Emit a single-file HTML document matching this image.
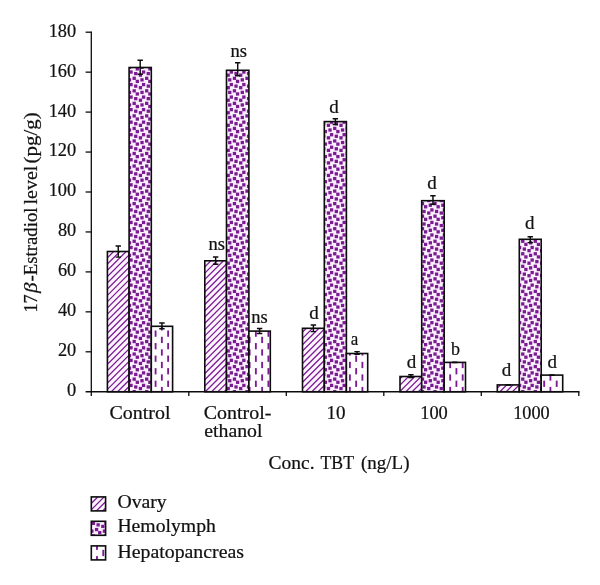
<!DOCTYPE html>
<html><head><meta charset="utf-8"><title>chart</title>
<style>
html,body{margin:0;padding:0;background:#fff;}
svg{display:block;}
text{font-family:"Liberation Serif","DejaVu Serif",serif;fill:#111;stroke:#111;stroke-width:0.22px;}
</style></head><body>
<svg width="600" height="585" viewBox="0 0 600 585">
<defs>
<g id="cf"><rect x="3.054" y="-0.080" width="3.294" height="3.294"/><rect x="9.321" y="3.054" width="3.294" height="3.294"/><rect x="4.621" y="4.621" width="3.294" height="3.294"/><rect x="-0.080" y="6.188" width="3.294" height="3.294"/><rect x="6.188" y="9.321" width="3.294" height="3.294"/><rect x="10.888" y="10.888" width="3.294" height="3.294"/></g>
<g id="ds"><rect x="-0.125" y="0" width="1.818" height="6.268"/><rect x="6.142" y="6.268" width="1.818" height="6.268"/></g>
<clipPath id="c0"><rect x="107.40" y="251.50" width="21.70" height="140.25"/></clipPath>
<clipPath id="c1"><rect x="129.10" y="67.50" width="22.20" height="324.25"/></clipPath>
<clipPath id="c2"><rect x="151.30" y="326.30" width="21.30" height="65.45"/></clipPath>
<clipPath id="c3"><rect x="204.80" y="260.80" width="21.70" height="130.95"/></clipPath>
<clipPath id="c4"><rect x="226.50" y="70.30" width="22.40" height="321.45"/></clipPath>
<clipPath id="c5"><rect x="248.90" y="331.10" width="21.40" height="60.65"/></clipPath>
<clipPath id="c6"><rect x="302.50" y="328.30" width="21.80" height="63.45"/></clipPath>
<clipPath id="c7"><rect x="324.30" y="121.60" width="22.10" height="270.15"/></clipPath>
<clipPath id="c8"><rect x="346.40" y="353.50" width="21.30" height="38.25"/></clipPath>
<clipPath id="c9"><rect x="400.00" y="376.50" width="21.70" height="15.25"/></clipPath>
<clipPath id="c10"><rect x="421.70" y="200.70" width="22.50" height="191.05"/></clipPath>
<clipPath id="c11"><rect x="444.20" y="362.40" width="21.30" height="29.35"/></clipPath>
<clipPath id="c12"><rect x="497.30" y="384.90" width="22.00" height="6.85"/></clipPath>
<clipPath id="c13"><rect x="519.30" y="239.30" width="21.90" height="152.45"/></clipPath>
<clipPath id="c14"><rect x="541.20" y="375.10" width="21.50" height="16.65"/></clipPath>
<clipPath id="c15"><rect x="91.30" y="496.90" width="14.30" height="14.00"/></clipPath>
<clipPath id="c16"><rect x="91.30" y="521.30" width="14.30" height="14.00"/></clipPath>
<clipPath id="c17"><rect x="91.30" y="545.90" width="14.30" height="14.00"/></clipPath>
<filter id="bl" x="-5%" y="-5%" width="110%" height="110%"><feGaussianBlur stdDeviation="0.28"/></filter>
</defs>
<rect width="600" height="585" fill="#fff"/>
<rect x="107.40" y="251.50" width="21.70" height="140.25" fill="#fdf4ff"/>
<g clip-path="url(#c0)"><g fill="#781a90" filter="url(#bl)">
<path d="M106.40 252.48 L130.10 228.78M106.40 258.75 L130.10 235.05M106.40 265.02 L130.10 241.32M106.40 271.29 L130.10 247.59M106.40 277.55 L130.10 253.85M106.40 283.82 L130.10 260.12M106.40 290.09 L130.10 266.39M106.40 296.36 L130.10 272.66M106.40 302.62 L130.10 278.92M106.40 308.89 L130.10 285.19M106.40 315.16 L130.10 291.46M106.40 321.43 L130.10 297.73M106.40 327.69 L130.10 303.99M106.40 333.96 L130.10 310.26M106.40 340.23 L130.10 316.53M106.40 346.50 L130.10 322.80M106.40 352.76 L130.10 329.06M106.40 359.03 L130.10 335.33M106.40 365.30 L130.10 341.60M106.40 371.57 L130.10 347.87M106.40 377.83 L130.10 354.13M106.40 384.10 L130.10 360.40M106.40 390.37 L130.10 366.67M106.40 396.64 L130.10 372.94M106.40 402.90 L130.10 379.20M106.40 409.17 L130.10 385.47M106.40 415.44 L130.10 391.74" stroke="#781a90" stroke-width="1.25" fill="none"/>
</g></g>
<rect x="107.40" y="251.50" width="21.70" height="140.25" fill="none" stroke="#0c0c0c" stroke-width="1.6"/>
<rect x="129.10" y="67.50" width="22.20" height="324.25" fill="#fcf0ff"/>
<g clip-path="url(#c1)"><g fill="#781a90" filter="url(#bl)">
<use href="#cf" x="110.67" y="48.53"/>
<use href="#cf" x="110.67" y="61.06"/>
<use href="#cf" x="110.67" y="73.60"/>
<use href="#cf" x="110.67" y="86.13"/>
<use href="#cf" x="110.67" y="98.67"/>
<use href="#cf" x="110.67" y="111.20"/>
<use href="#cf" x="110.67" y="123.74"/>
<use href="#cf" x="110.67" y="136.27"/>
<use href="#cf" x="110.67" y="148.81"/>
<use href="#cf" x="110.67" y="161.34"/>
<use href="#cf" x="110.67" y="173.88"/>
<use href="#cf" x="110.67" y="186.41"/>
<use href="#cf" x="110.67" y="198.95"/>
<use href="#cf" x="110.67" y="211.48"/>
<use href="#cf" x="110.67" y="224.02"/>
<use href="#cf" x="110.67" y="236.56"/>
<use href="#cf" x="110.67" y="249.09"/>
<use href="#cf" x="110.67" y="261.62"/>
<use href="#cf" x="110.67" y="274.16"/>
<use href="#cf" x="110.67" y="286.69"/>
<use href="#cf" x="110.67" y="299.23"/>
<use href="#cf" x="110.67" y="311.76"/>
<use href="#cf" x="110.67" y="324.30"/>
<use href="#cf" x="110.67" y="336.83"/>
<use href="#cf" x="110.67" y="349.37"/>
<use href="#cf" x="110.67" y="361.90"/>
<use href="#cf" x="110.67" y="374.44"/>
<use href="#cf" x="110.67" y="386.98"/>
<use href="#cf" x="123.21" y="48.53"/>
<use href="#cf" x="123.21" y="61.06"/>
<use href="#cf" x="123.21" y="73.60"/>
<use href="#cf" x="123.21" y="86.13"/>
<use href="#cf" x="123.21" y="98.67"/>
<use href="#cf" x="123.21" y="111.20"/>
<use href="#cf" x="123.21" y="123.74"/>
<use href="#cf" x="123.21" y="136.27"/>
<use href="#cf" x="123.21" y="148.81"/>
<use href="#cf" x="123.21" y="161.34"/>
<use href="#cf" x="123.21" y="173.88"/>
<use href="#cf" x="123.21" y="186.41"/>
<use href="#cf" x="123.21" y="198.95"/>
<use href="#cf" x="123.21" y="211.48"/>
<use href="#cf" x="123.21" y="224.02"/>
<use href="#cf" x="123.21" y="236.56"/>
<use href="#cf" x="123.21" y="249.09"/>
<use href="#cf" x="123.21" y="261.62"/>
<use href="#cf" x="123.21" y="274.16"/>
<use href="#cf" x="123.21" y="286.69"/>
<use href="#cf" x="123.21" y="299.23"/>
<use href="#cf" x="123.21" y="311.76"/>
<use href="#cf" x="123.21" y="324.30"/>
<use href="#cf" x="123.21" y="336.83"/>
<use href="#cf" x="123.21" y="349.37"/>
<use href="#cf" x="123.21" y="361.90"/>
<use href="#cf" x="123.21" y="374.44"/>
<use href="#cf" x="123.21" y="386.98"/>
<use href="#cf" x="135.74" y="48.53"/>
<use href="#cf" x="135.74" y="61.06"/>
<use href="#cf" x="135.74" y="73.60"/>
<use href="#cf" x="135.74" y="86.13"/>
<use href="#cf" x="135.74" y="98.67"/>
<use href="#cf" x="135.74" y="111.20"/>
<use href="#cf" x="135.74" y="123.74"/>
<use href="#cf" x="135.74" y="136.27"/>
<use href="#cf" x="135.74" y="148.81"/>
<use href="#cf" x="135.74" y="161.34"/>
<use href="#cf" x="135.74" y="173.88"/>
<use href="#cf" x="135.74" y="186.41"/>
<use href="#cf" x="135.74" y="198.95"/>
<use href="#cf" x="135.74" y="211.48"/>
<use href="#cf" x="135.74" y="224.02"/>
<use href="#cf" x="135.74" y="236.56"/>
<use href="#cf" x="135.74" y="249.09"/>
<use href="#cf" x="135.74" y="261.62"/>
<use href="#cf" x="135.74" y="274.16"/>
<use href="#cf" x="135.74" y="286.69"/>
<use href="#cf" x="135.74" y="299.23"/>
<use href="#cf" x="135.74" y="311.76"/>
<use href="#cf" x="135.74" y="324.30"/>
<use href="#cf" x="135.74" y="336.83"/>
<use href="#cf" x="135.74" y="349.37"/>
<use href="#cf" x="135.74" y="361.90"/>
<use href="#cf" x="135.74" y="374.44"/>
<use href="#cf" x="135.74" y="386.98"/>
<use href="#cf" x="148.28" y="48.53"/>
<use href="#cf" x="148.28" y="61.06"/>
<use href="#cf" x="148.28" y="73.60"/>
<use href="#cf" x="148.28" y="86.13"/>
<use href="#cf" x="148.28" y="98.67"/>
<use href="#cf" x="148.28" y="111.20"/>
<use href="#cf" x="148.28" y="123.74"/>
<use href="#cf" x="148.28" y="136.27"/>
<use href="#cf" x="148.28" y="148.81"/>
<use href="#cf" x="148.28" y="161.34"/>
<use href="#cf" x="148.28" y="173.88"/>
<use href="#cf" x="148.28" y="186.41"/>
<use href="#cf" x="148.28" y="198.95"/>
<use href="#cf" x="148.28" y="211.48"/>
<use href="#cf" x="148.28" y="224.02"/>
<use href="#cf" x="148.28" y="236.56"/>
<use href="#cf" x="148.28" y="249.09"/>
<use href="#cf" x="148.28" y="261.62"/>
<use href="#cf" x="148.28" y="274.16"/>
<use href="#cf" x="148.28" y="286.69"/>
<use href="#cf" x="148.28" y="299.23"/>
<use href="#cf" x="148.28" y="311.76"/>
<use href="#cf" x="148.28" y="324.30"/>
<use href="#cf" x="148.28" y="336.83"/>
<use href="#cf" x="148.28" y="349.37"/>
<use href="#cf" x="148.28" y="361.90"/>
<use href="#cf" x="148.28" y="374.44"/>
<use href="#cf" x="148.28" y="386.98"/>
</g></g>
<rect x="129.10" y="67.50" width="22.20" height="324.25" fill="none" stroke="#0c0c0c" stroke-width="1.6"/>
<rect x="151.30" y="326.30" width="21.30" height="65.45" fill="#fffcff"/>
<g clip-path="url(#c2)"><g fill="#781a90" filter="url(#bl)">
<use href="#ds" x="129.73" y="305.43"/>
<use href="#ds" x="129.73" y="317.96"/>
<use href="#ds" x="129.73" y="330.50"/>
<use href="#ds" x="129.73" y="343.04"/>
<use href="#ds" x="129.73" y="355.57"/>
<use href="#ds" x="129.73" y="368.11"/>
<use href="#ds" x="129.73" y="380.64"/>
<use href="#ds" x="142.27" y="305.43"/>
<use href="#ds" x="142.27" y="317.96"/>
<use href="#ds" x="142.27" y="330.50"/>
<use href="#ds" x="142.27" y="343.04"/>
<use href="#ds" x="142.27" y="355.57"/>
<use href="#ds" x="142.27" y="368.11"/>
<use href="#ds" x="142.27" y="380.64"/>
<use href="#ds" x="154.80" y="305.43"/>
<use href="#ds" x="154.80" y="317.96"/>
<use href="#ds" x="154.80" y="330.50"/>
<use href="#ds" x="154.80" y="343.04"/>
<use href="#ds" x="154.80" y="355.57"/>
<use href="#ds" x="154.80" y="368.11"/>
<use href="#ds" x="154.80" y="380.64"/>
<use href="#ds" x="167.34" y="305.43"/>
<use href="#ds" x="167.34" y="317.96"/>
<use href="#ds" x="167.34" y="330.50"/>
<use href="#ds" x="167.34" y="343.04"/>
<use href="#ds" x="167.34" y="355.57"/>
<use href="#ds" x="167.34" y="368.11"/>
<use href="#ds" x="167.34" y="380.64"/>
</g></g>
<rect x="151.30" y="326.30" width="21.30" height="65.45" fill="none" stroke="#0c0c0c" stroke-width="1.6"/>
<rect x="204.80" y="260.80" width="21.70" height="130.95" fill="#fdf4ff"/>
<g clip-path="url(#c3)"><g fill="#781a90" filter="url(#bl)">
<path d="M203.80 261.63 L227.50 237.93M203.80 267.90 L227.50 244.20M203.80 274.17 L227.50 250.47M203.80 280.43 L227.50 256.73M203.80 286.70 L227.50 263.00M203.80 292.97 L227.50 269.27M203.80 299.24 L227.50 275.54M203.80 305.50 L227.50 281.80M203.80 311.77 L227.50 288.07M203.80 318.04 L227.50 294.34M203.80 324.31 L227.50 300.61M203.80 330.57 L227.50 306.88M203.80 336.84 L227.50 313.14M203.80 343.11 L227.50 319.41M203.80 349.38 L227.50 325.68M203.80 355.64 L227.50 331.94M203.80 361.91 L227.50 338.21M203.80 368.18 L227.50 344.48M203.80 374.45 L227.50 350.75M203.80 380.71 L227.50 357.01M203.80 386.98 L227.50 363.28M203.80 393.25 L227.50 369.55M203.80 399.52 L227.50 375.82M203.80 405.78 L227.50 382.08M203.80 412.05 L227.50 388.35" stroke="#781a90" stroke-width="1.25" fill="none"/>
</g></g>
<rect x="204.80" y="260.80" width="21.70" height="130.95" fill="none" stroke="#0c0c0c" stroke-width="1.6"/>
<rect x="226.50" y="70.30" width="22.40" height="321.45" fill="#fcf0ff"/>
<g clip-path="url(#c4)"><g fill="#781a90" filter="url(#bl)">
<use href="#cf" x="210.95" y="48.53"/>
<use href="#cf" x="210.95" y="61.06"/>
<use href="#cf" x="210.95" y="73.60"/>
<use href="#cf" x="210.95" y="86.13"/>
<use href="#cf" x="210.95" y="98.67"/>
<use href="#cf" x="210.95" y="111.20"/>
<use href="#cf" x="210.95" y="123.74"/>
<use href="#cf" x="210.95" y="136.27"/>
<use href="#cf" x="210.95" y="148.81"/>
<use href="#cf" x="210.95" y="161.34"/>
<use href="#cf" x="210.95" y="173.88"/>
<use href="#cf" x="210.95" y="186.41"/>
<use href="#cf" x="210.95" y="198.95"/>
<use href="#cf" x="210.95" y="211.48"/>
<use href="#cf" x="210.95" y="224.02"/>
<use href="#cf" x="210.95" y="236.56"/>
<use href="#cf" x="210.95" y="249.09"/>
<use href="#cf" x="210.95" y="261.62"/>
<use href="#cf" x="210.95" y="274.16"/>
<use href="#cf" x="210.95" y="286.69"/>
<use href="#cf" x="210.95" y="299.23"/>
<use href="#cf" x="210.95" y="311.76"/>
<use href="#cf" x="210.95" y="324.30"/>
<use href="#cf" x="210.95" y="336.83"/>
<use href="#cf" x="210.95" y="349.37"/>
<use href="#cf" x="210.95" y="361.90"/>
<use href="#cf" x="210.95" y="374.44"/>
<use href="#cf" x="210.95" y="386.98"/>
<use href="#cf" x="223.49" y="48.53"/>
<use href="#cf" x="223.49" y="61.06"/>
<use href="#cf" x="223.49" y="73.60"/>
<use href="#cf" x="223.49" y="86.13"/>
<use href="#cf" x="223.49" y="98.67"/>
<use href="#cf" x="223.49" y="111.20"/>
<use href="#cf" x="223.49" y="123.74"/>
<use href="#cf" x="223.49" y="136.27"/>
<use href="#cf" x="223.49" y="148.81"/>
<use href="#cf" x="223.49" y="161.34"/>
<use href="#cf" x="223.49" y="173.88"/>
<use href="#cf" x="223.49" y="186.41"/>
<use href="#cf" x="223.49" y="198.95"/>
<use href="#cf" x="223.49" y="211.48"/>
<use href="#cf" x="223.49" y="224.02"/>
<use href="#cf" x="223.49" y="236.56"/>
<use href="#cf" x="223.49" y="249.09"/>
<use href="#cf" x="223.49" y="261.62"/>
<use href="#cf" x="223.49" y="274.16"/>
<use href="#cf" x="223.49" y="286.69"/>
<use href="#cf" x="223.49" y="299.23"/>
<use href="#cf" x="223.49" y="311.76"/>
<use href="#cf" x="223.49" y="324.30"/>
<use href="#cf" x="223.49" y="336.83"/>
<use href="#cf" x="223.49" y="349.37"/>
<use href="#cf" x="223.49" y="361.90"/>
<use href="#cf" x="223.49" y="374.44"/>
<use href="#cf" x="223.49" y="386.98"/>
<use href="#cf" x="236.02" y="48.53"/>
<use href="#cf" x="236.02" y="61.06"/>
<use href="#cf" x="236.02" y="73.60"/>
<use href="#cf" x="236.02" y="86.13"/>
<use href="#cf" x="236.02" y="98.67"/>
<use href="#cf" x="236.02" y="111.20"/>
<use href="#cf" x="236.02" y="123.74"/>
<use href="#cf" x="236.02" y="136.27"/>
<use href="#cf" x="236.02" y="148.81"/>
<use href="#cf" x="236.02" y="161.34"/>
<use href="#cf" x="236.02" y="173.88"/>
<use href="#cf" x="236.02" y="186.41"/>
<use href="#cf" x="236.02" y="198.95"/>
<use href="#cf" x="236.02" y="211.48"/>
<use href="#cf" x="236.02" y="224.02"/>
<use href="#cf" x="236.02" y="236.56"/>
<use href="#cf" x="236.02" y="249.09"/>
<use href="#cf" x="236.02" y="261.62"/>
<use href="#cf" x="236.02" y="274.16"/>
<use href="#cf" x="236.02" y="286.69"/>
<use href="#cf" x="236.02" y="299.23"/>
<use href="#cf" x="236.02" y="311.76"/>
<use href="#cf" x="236.02" y="324.30"/>
<use href="#cf" x="236.02" y="336.83"/>
<use href="#cf" x="236.02" y="349.37"/>
<use href="#cf" x="236.02" y="361.90"/>
<use href="#cf" x="236.02" y="374.44"/>
<use href="#cf" x="236.02" y="386.98"/>
<use href="#cf" x="248.56" y="48.53"/>
<use href="#cf" x="248.56" y="61.06"/>
<use href="#cf" x="248.56" y="73.60"/>
<use href="#cf" x="248.56" y="86.13"/>
<use href="#cf" x="248.56" y="98.67"/>
<use href="#cf" x="248.56" y="111.20"/>
<use href="#cf" x="248.56" y="123.74"/>
<use href="#cf" x="248.56" y="136.27"/>
<use href="#cf" x="248.56" y="148.81"/>
<use href="#cf" x="248.56" y="161.34"/>
<use href="#cf" x="248.56" y="173.88"/>
<use href="#cf" x="248.56" y="186.41"/>
<use href="#cf" x="248.56" y="198.95"/>
<use href="#cf" x="248.56" y="211.48"/>
<use href="#cf" x="248.56" y="224.02"/>
<use href="#cf" x="248.56" y="236.56"/>
<use href="#cf" x="248.56" y="249.09"/>
<use href="#cf" x="248.56" y="261.62"/>
<use href="#cf" x="248.56" y="274.16"/>
<use href="#cf" x="248.56" y="286.69"/>
<use href="#cf" x="248.56" y="299.23"/>
<use href="#cf" x="248.56" y="311.76"/>
<use href="#cf" x="248.56" y="324.30"/>
<use href="#cf" x="248.56" y="336.83"/>
<use href="#cf" x="248.56" y="349.37"/>
<use href="#cf" x="248.56" y="361.90"/>
<use href="#cf" x="248.56" y="374.44"/>
<use href="#cf" x="248.56" y="386.98"/>
</g></g>
<rect x="226.50" y="70.30" width="22.40" height="321.45" fill="none" stroke="#0c0c0c" stroke-width="1.6"/>
<rect x="248.90" y="331.10" width="21.40" height="60.65" fill="#fffcff"/>
<g clip-path="url(#c5)"><g fill="#781a90" filter="url(#bl)">
<use href="#ds" x="230.01" y="317.96"/>
<use href="#ds" x="230.01" y="330.50"/>
<use href="#ds" x="230.01" y="343.04"/>
<use href="#ds" x="230.01" y="355.57"/>
<use href="#ds" x="230.01" y="368.11"/>
<use href="#ds" x="230.01" y="380.64"/>
<use href="#ds" x="242.55" y="317.96"/>
<use href="#ds" x="242.55" y="330.50"/>
<use href="#ds" x="242.55" y="343.04"/>
<use href="#ds" x="242.55" y="355.57"/>
<use href="#ds" x="242.55" y="368.11"/>
<use href="#ds" x="242.55" y="380.64"/>
<use href="#ds" x="255.08" y="317.96"/>
<use href="#ds" x="255.08" y="330.50"/>
<use href="#ds" x="255.08" y="343.04"/>
<use href="#ds" x="255.08" y="355.57"/>
<use href="#ds" x="255.08" y="368.11"/>
<use href="#ds" x="255.08" y="380.64"/>
<use href="#ds" x="267.62" y="317.96"/>
<use href="#ds" x="267.62" y="330.50"/>
<use href="#ds" x="267.62" y="343.04"/>
<use href="#ds" x="267.62" y="355.57"/>
<use href="#ds" x="267.62" y="368.11"/>
<use href="#ds" x="267.62" y="380.64"/>
</g></g>
<rect x="248.90" y="331.10" width="21.40" height="60.65" fill="none" stroke="#0c0c0c" stroke-width="1.6"/>
<rect x="302.50" y="328.30" width="21.80" height="63.45" fill="#fdf4ff"/>
<g clip-path="url(#c6)"><g fill="#781a90" filter="url(#bl)">
<path d="M301.50 333.15 L325.30 309.35M301.50 339.42 L325.30 315.62M301.50 345.69 L325.30 321.89M301.50 351.96 L325.30 328.16M301.50 358.22 L325.30 334.42M301.50 364.49 L325.30 340.69M301.50 370.76 L325.30 346.96M301.50 377.03 L325.30 353.23M301.50 383.29 L325.30 359.49M301.50 389.56 L325.30 365.76M301.50 395.83 L325.30 372.03M301.50 402.10 L325.30 378.30M301.50 408.37 L325.30 384.56M301.50 414.63 L325.30 390.83" stroke="#781a90" stroke-width="1.25" fill="none"/>
</g></g>
<rect x="302.50" y="328.30" width="21.80" height="63.45" fill="none" stroke="#0c0c0c" stroke-width="1.6"/>
<rect x="324.30" y="121.60" width="22.10" height="270.15" fill="#fcf0ff"/>
<g clip-path="url(#c7)"><g fill="#781a90" filter="url(#bl)">
<use href="#cf" x="311.23" y="98.67"/>
<use href="#cf" x="311.23" y="111.20"/>
<use href="#cf" x="311.23" y="123.74"/>
<use href="#cf" x="311.23" y="136.27"/>
<use href="#cf" x="311.23" y="148.81"/>
<use href="#cf" x="311.23" y="161.34"/>
<use href="#cf" x="311.23" y="173.88"/>
<use href="#cf" x="311.23" y="186.41"/>
<use href="#cf" x="311.23" y="198.95"/>
<use href="#cf" x="311.23" y="211.48"/>
<use href="#cf" x="311.23" y="224.02"/>
<use href="#cf" x="311.23" y="236.56"/>
<use href="#cf" x="311.23" y="249.09"/>
<use href="#cf" x="311.23" y="261.62"/>
<use href="#cf" x="311.23" y="274.16"/>
<use href="#cf" x="311.23" y="286.69"/>
<use href="#cf" x="311.23" y="299.23"/>
<use href="#cf" x="311.23" y="311.76"/>
<use href="#cf" x="311.23" y="324.30"/>
<use href="#cf" x="311.23" y="336.83"/>
<use href="#cf" x="311.23" y="349.37"/>
<use href="#cf" x="311.23" y="361.90"/>
<use href="#cf" x="311.23" y="374.44"/>
<use href="#cf" x="311.23" y="386.98"/>
<use href="#cf" x="323.77" y="98.67"/>
<use href="#cf" x="323.77" y="111.20"/>
<use href="#cf" x="323.77" y="123.74"/>
<use href="#cf" x="323.77" y="136.27"/>
<use href="#cf" x="323.77" y="148.81"/>
<use href="#cf" x="323.77" y="161.34"/>
<use href="#cf" x="323.77" y="173.88"/>
<use href="#cf" x="323.77" y="186.41"/>
<use href="#cf" x="323.77" y="198.95"/>
<use href="#cf" x="323.77" y="211.48"/>
<use href="#cf" x="323.77" y="224.02"/>
<use href="#cf" x="323.77" y="236.56"/>
<use href="#cf" x="323.77" y="249.09"/>
<use href="#cf" x="323.77" y="261.62"/>
<use href="#cf" x="323.77" y="274.16"/>
<use href="#cf" x="323.77" y="286.69"/>
<use href="#cf" x="323.77" y="299.23"/>
<use href="#cf" x="323.77" y="311.76"/>
<use href="#cf" x="323.77" y="324.30"/>
<use href="#cf" x="323.77" y="336.83"/>
<use href="#cf" x="323.77" y="349.37"/>
<use href="#cf" x="323.77" y="361.90"/>
<use href="#cf" x="323.77" y="374.44"/>
<use href="#cf" x="323.77" y="386.98"/>
<use href="#cf" x="336.31" y="98.67"/>
<use href="#cf" x="336.31" y="111.20"/>
<use href="#cf" x="336.31" y="123.74"/>
<use href="#cf" x="336.31" y="136.27"/>
<use href="#cf" x="336.31" y="148.81"/>
<use href="#cf" x="336.31" y="161.34"/>
<use href="#cf" x="336.31" y="173.88"/>
<use href="#cf" x="336.31" y="186.41"/>
<use href="#cf" x="336.31" y="198.95"/>
<use href="#cf" x="336.31" y="211.48"/>
<use href="#cf" x="336.31" y="224.02"/>
<use href="#cf" x="336.31" y="236.56"/>
<use href="#cf" x="336.31" y="249.09"/>
<use href="#cf" x="336.31" y="261.62"/>
<use href="#cf" x="336.31" y="274.16"/>
<use href="#cf" x="336.31" y="286.69"/>
<use href="#cf" x="336.31" y="299.23"/>
<use href="#cf" x="336.31" y="311.76"/>
<use href="#cf" x="336.31" y="324.30"/>
<use href="#cf" x="336.31" y="336.83"/>
<use href="#cf" x="336.31" y="349.37"/>
<use href="#cf" x="336.31" y="361.90"/>
<use href="#cf" x="336.31" y="374.44"/>
<use href="#cf" x="336.31" y="386.98"/>
</g></g>
<rect x="324.30" y="121.60" width="22.10" height="270.15" fill="none" stroke="#0c0c0c" stroke-width="1.6"/>
<rect x="346.40" y="353.50" width="21.30" height="38.25" fill="#fffcff"/>
<g clip-path="url(#c8)"><g fill="#781a90" filter="url(#bl)">
<use href="#ds" x="330.29" y="330.50"/>
<use href="#ds" x="330.29" y="343.04"/>
<use href="#ds" x="330.29" y="355.57"/>
<use href="#ds" x="330.29" y="368.11"/>
<use href="#ds" x="330.29" y="380.64"/>
<use href="#ds" x="342.83" y="330.50"/>
<use href="#ds" x="342.83" y="343.04"/>
<use href="#ds" x="342.83" y="355.57"/>
<use href="#ds" x="342.83" y="368.11"/>
<use href="#ds" x="342.83" y="380.64"/>
<use href="#ds" x="355.36" y="330.50"/>
<use href="#ds" x="355.36" y="343.04"/>
<use href="#ds" x="355.36" y="355.57"/>
<use href="#ds" x="355.36" y="368.11"/>
<use href="#ds" x="355.36" y="380.64"/>
</g></g>
<rect x="346.40" y="353.50" width="21.30" height="38.25" fill="none" stroke="#0c0c0c" stroke-width="1.6"/>
<rect x="400.00" y="376.50" width="21.70" height="15.25" fill="#fdf4ff"/>
<g clip-path="url(#c9)"><g fill="#781a90" filter="url(#bl)">
<path d="M399.00 379.81 L422.70 356.11M399.00 386.07 L422.70 362.37M399.00 392.34 L422.70 368.64M399.00 398.61 L422.70 374.91M399.00 404.88 L422.70 381.18M399.00 411.14 L422.70 387.44" stroke="#781a90" stroke-width="1.25" fill="none"/>
</g></g>
<rect x="400.00" y="376.50" width="21.70" height="15.25" fill="none" stroke="#0c0c0c" stroke-width="1.6"/>
<rect x="421.70" y="200.70" width="22.50" height="191.05" fill="#fcf0ff"/>
<g clip-path="url(#c10)"><g fill="#781a90" filter="url(#bl)">
<use href="#cf" x="398.98" y="186.41"/>
<use href="#cf" x="398.98" y="198.95"/>
<use href="#cf" x="398.98" y="211.48"/>
<use href="#cf" x="398.98" y="224.02"/>
<use href="#cf" x="398.98" y="236.56"/>
<use href="#cf" x="398.98" y="249.09"/>
<use href="#cf" x="398.98" y="261.62"/>
<use href="#cf" x="398.98" y="274.16"/>
<use href="#cf" x="398.98" y="286.69"/>
<use href="#cf" x="398.98" y="299.23"/>
<use href="#cf" x="398.98" y="311.76"/>
<use href="#cf" x="398.98" y="324.30"/>
<use href="#cf" x="398.98" y="336.83"/>
<use href="#cf" x="398.98" y="349.37"/>
<use href="#cf" x="398.98" y="361.90"/>
<use href="#cf" x="398.98" y="374.44"/>
<use href="#cf" x="398.98" y="386.98"/>
<use href="#cf" x="411.51" y="186.41"/>
<use href="#cf" x="411.51" y="198.95"/>
<use href="#cf" x="411.51" y="211.48"/>
<use href="#cf" x="411.51" y="224.02"/>
<use href="#cf" x="411.51" y="236.56"/>
<use href="#cf" x="411.51" y="249.09"/>
<use href="#cf" x="411.51" y="261.62"/>
<use href="#cf" x="411.51" y="274.16"/>
<use href="#cf" x="411.51" y="286.69"/>
<use href="#cf" x="411.51" y="299.23"/>
<use href="#cf" x="411.51" y="311.76"/>
<use href="#cf" x="411.51" y="324.30"/>
<use href="#cf" x="411.51" y="336.83"/>
<use href="#cf" x="411.51" y="349.37"/>
<use href="#cf" x="411.51" y="361.90"/>
<use href="#cf" x="411.51" y="374.44"/>
<use href="#cf" x="411.51" y="386.98"/>
<use href="#cf" x="424.05" y="186.41"/>
<use href="#cf" x="424.05" y="198.95"/>
<use href="#cf" x="424.05" y="211.48"/>
<use href="#cf" x="424.05" y="224.02"/>
<use href="#cf" x="424.05" y="236.56"/>
<use href="#cf" x="424.05" y="249.09"/>
<use href="#cf" x="424.05" y="261.62"/>
<use href="#cf" x="424.05" y="274.16"/>
<use href="#cf" x="424.05" y="286.69"/>
<use href="#cf" x="424.05" y="299.23"/>
<use href="#cf" x="424.05" y="311.76"/>
<use href="#cf" x="424.05" y="324.30"/>
<use href="#cf" x="424.05" y="336.83"/>
<use href="#cf" x="424.05" y="349.37"/>
<use href="#cf" x="424.05" y="361.90"/>
<use href="#cf" x="424.05" y="374.44"/>
<use href="#cf" x="424.05" y="386.98"/>
<use href="#cf" x="436.58" y="186.41"/>
<use href="#cf" x="436.58" y="198.95"/>
<use href="#cf" x="436.58" y="211.48"/>
<use href="#cf" x="436.58" y="224.02"/>
<use href="#cf" x="436.58" y="236.56"/>
<use href="#cf" x="436.58" y="249.09"/>
<use href="#cf" x="436.58" y="261.62"/>
<use href="#cf" x="436.58" y="274.16"/>
<use href="#cf" x="436.58" y="286.69"/>
<use href="#cf" x="436.58" y="299.23"/>
<use href="#cf" x="436.58" y="311.76"/>
<use href="#cf" x="436.58" y="324.30"/>
<use href="#cf" x="436.58" y="336.83"/>
<use href="#cf" x="436.58" y="349.37"/>
<use href="#cf" x="436.58" y="361.90"/>
<use href="#cf" x="436.58" y="374.44"/>
<use href="#cf" x="436.58" y="386.98"/>
</g></g>
<rect x="421.70" y="200.70" width="22.50" height="191.05" fill="none" stroke="#0c0c0c" stroke-width="1.6"/>
<rect x="444.20" y="362.40" width="21.30" height="29.35" fill="#fffcff"/>
<g clip-path="url(#c11)"><g fill="#781a90" filter="url(#bl)">
<use href="#ds" x="430.57" y="343.04"/>
<use href="#ds" x="430.57" y="355.57"/>
<use href="#ds" x="430.57" y="368.11"/>
<use href="#ds" x="430.57" y="380.64"/>
<use href="#ds" x="443.11" y="343.04"/>
<use href="#ds" x="443.11" y="355.57"/>
<use href="#ds" x="443.11" y="368.11"/>
<use href="#ds" x="443.11" y="380.64"/>
<use href="#ds" x="455.64" y="343.04"/>
<use href="#ds" x="455.64" y="355.57"/>
<use href="#ds" x="455.64" y="368.11"/>
<use href="#ds" x="455.64" y="380.64"/>
</g></g>
<rect x="444.20" y="362.40" width="21.30" height="29.35" fill="none" stroke="#0c0c0c" stroke-width="1.6"/>
<rect x="497.30" y="384.90" width="22.00" height="6.85" fill="#fdf4ff"/>
<g clip-path="url(#c12)"><g fill="#781a90" filter="url(#bl)">
<path d="M496.30 389.06 L520.30 365.06M496.30 395.32 L520.30 371.32M496.30 401.59 L520.30 377.59M496.30 407.86 L520.30 383.86M496.30 414.12 L520.30 390.12" stroke="#781a90" stroke-width="1.25" fill="none"/>
</g></g>
<rect x="497.30" y="384.90" width="22.00" height="6.85" fill="none" stroke="#0c0c0c" stroke-width="1.6"/>
<rect x="519.30" y="239.30" width="21.90" height="152.45" fill="#fcf0ff"/>
<g clip-path="url(#c13)"><g fill="#781a90" filter="url(#bl)">
<use href="#cf" x="499.26" y="224.02"/>
<use href="#cf" x="499.26" y="236.56"/>
<use href="#cf" x="499.26" y="249.09"/>
<use href="#cf" x="499.26" y="261.62"/>
<use href="#cf" x="499.26" y="274.16"/>
<use href="#cf" x="499.26" y="286.69"/>
<use href="#cf" x="499.26" y="299.23"/>
<use href="#cf" x="499.26" y="311.76"/>
<use href="#cf" x="499.26" y="324.30"/>
<use href="#cf" x="499.26" y="336.83"/>
<use href="#cf" x="499.26" y="349.37"/>
<use href="#cf" x="499.26" y="361.90"/>
<use href="#cf" x="499.26" y="374.44"/>
<use href="#cf" x="499.26" y="386.98"/>
<use href="#cf" x="511.79" y="224.02"/>
<use href="#cf" x="511.79" y="236.56"/>
<use href="#cf" x="511.79" y="249.09"/>
<use href="#cf" x="511.79" y="261.62"/>
<use href="#cf" x="511.79" y="274.16"/>
<use href="#cf" x="511.79" y="286.69"/>
<use href="#cf" x="511.79" y="299.23"/>
<use href="#cf" x="511.79" y="311.76"/>
<use href="#cf" x="511.79" y="324.30"/>
<use href="#cf" x="511.79" y="336.83"/>
<use href="#cf" x="511.79" y="349.37"/>
<use href="#cf" x="511.79" y="361.90"/>
<use href="#cf" x="511.79" y="374.44"/>
<use href="#cf" x="511.79" y="386.98"/>
<use href="#cf" x="524.33" y="224.02"/>
<use href="#cf" x="524.33" y="236.56"/>
<use href="#cf" x="524.33" y="249.09"/>
<use href="#cf" x="524.33" y="261.62"/>
<use href="#cf" x="524.33" y="274.16"/>
<use href="#cf" x="524.33" y="286.69"/>
<use href="#cf" x="524.33" y="299.23"/>
<use href="#cf" x="524.33" y="311.76"/>
<use href="#cf" x="524.33" y="324.30"/>
<use href="#cf" x="524.33" y="336.83"/>
<use href="#cf" x="524.33" y="349.37"/>
<use href="#cf" x="524.33" y="361.90"/>
<use href="#cf" x="524.33" y="374.44"/>
<use href="#cf" x="524.33" y="386.98"/>
<use href="#cf" x="536.87" y="224.02"/>
<use href="#cf" x="536.87" y="236.56"/>
<use href="#cf" x="536.87" y="249.09"/>
<use href="#cf" x="536.87" y="261.62"/>
<use href="#cf" x="536.87" y="274.16"/>
<use href="#cf" x="536.87" y="286.69"/>
<use href="#cf" x="536.87" y="299.23"/>
<use href="#cf" x="536.87" y="311.76"/>
<use href="#cf" x="536.87" y="324.30"/>
<use href="#cf" x="536.87" y="336.83"/>
<use href="#cf" x="536.87" y="349.37"/>
<use href="#cf" x="536.87" y="361.90"/>
<use href="#cf" x="536.87" y="374.44"/>
<use href="#cf" x="536.87" y="386.98"/>
</g></g>
<rect x="519.30" y="239.30" width="21.90" height="152.45" fill="none" stroke="#0c0c0c" stroke-width="1.6"/>
<rect x="541.20" y="375.10" width="21.50" height="16.65" fill="#fffcff"/>
<g clip-path="url(#c14)"><g fill="#781a90" filter="url(#bl)">
<use href="#ds" x="518.32" y="355.57"/>
<use href="#ds" x="518.32" y="368.11"/>
<use href="#ds" x="518.32" y="380.64"/>
<use href="#ds" x="530.85" y="355.57"/>
<use href="#ds" x="530.85" y="368.11"/>
<use href="#ds" x="530.85" y="380.64"/>
<use href="#ds" x="543.38" y="355.57"/>
<use href="#ds" x="543.38" y="368.11"/>
<use href="#ds" x="543.38" y="380.64"/>
<use href="#ds" x="555.92" y="355.57"/>
<use href="#ds" x="555.92" y="368.11"/>
<use href="#ds" x="555.92" y="380.64"/>
</g></g>
<rect x="541.20" y="375.10" width="21.50" height="16.65" fill="none" stroke="#0c0c0c" stroke-width="1.6"/>
<rect x="91.30" y="496.90" width="14.30" height="14.00" fill="#fdf4ff"/>
<g clip-path="url(#c15)"><g fill="#781a90" filter="url(#bl)">
<path d="M90.30 498.18 L106.60 481.88M90.30 504.45 L106.60 488.15M90.30 510.72 L106.60 494.42M90.30 516.99 L106.60 500.69M90.30 523.25 L106.60 506.95" stroke="#781a90" stroke-width="1.25" fill="none"/>
</g></g>
<rect x="91.30" y="496.90" width="14.30" height="14.00" fill="none" stroke="#0c0c0c" stroke-width="1.6"/>
<rect x="91.30" y="521.30" width="14.30" height="14.00" fill="#fcf0ff"/>
<g clip-path="url(#c16)"><g fill="#781a90" filter="url(#bl)">
<use href="#cf" x="73.07" y="499.79"/>
<use href="#cf" x="73.07" y="512.33"/>
<use href="#cf" x="73.07" y="524.86"/>
<use href="#cf" x="85.60" y="499.79"/>
<use href="#cf" x="85.60" y="512.33"/>
<use href="#cf" x="85.60" y="524.86"/>
<use href="#cf" x="98.14" y="499.79"/>
<use href="#cf" x="98.14" y="512.33"/>
<use href="#cf" x="98.14" y="524.86"/>
</g></g>
<rect x="91.30" y="521.30" width="14.30" height="14.00" fill="none" stroke="#0c0c0c" stroke-width="1.6"/>
<rect x="91.30" y="545.90" width="14.30" height="14.00" fill="#fffcff"/>
<g clip-path="url(#c17)"><g fill="#781a90" filter="url(#bl)">
<use href="#ds" x="71.13" y="531.03"/>
<use href="#ds" x="71.13" y="543.57"/>
<use href="#ds" x="71.13" y="556.10"/>
<use href="#ds" x="83.67" y="531.03"/>
<use href="#ds" x="83.67" y="543.57"/>
<use href="#ds" x="83.67" y="556.10"/>
<use href="#ds" x="96.20" y="531.03"/>
<use href="#ds" x="96.20" y="543.57"/>
<use href="#ds" x="96.20" y="556.10"/>
</g></g>
<rect x="91.30" y="545.90" width="14.30" height="14.00" fill="none" stroke="#0c0c0c" stroke-width="1.6"/>
<path d="M118.25 245.30 V257.80 M115.55 246.00 h5.4 M115.55 257.10 h5.4" stroke="#0c0c0c" stroke-width="1.45" fill="none"/>
<path d="M140.20 59.50 V75.00 M137.50 60.20 h5.4 M137.50 74.30 h5.4" stroke="#0c0c0c" stroke-width="1.45" fill="none"/>
<path d="M161.95 322.30 V329.50 M159.25 323.00 h5.4 M159.25 328.80 h5.4" stroke="#0c0c0c" stroke-width="1.45" fill="none"/>
<path d="M215.65 256.20 V265.00 M212.95 256.90 h5.4 M212.95 264.30 h5.4" stroke="#0c0c0c" stroke-width="1.45" fill="none"/>
<path d="M237.70 62.10 V76.50 M235.00 62.80 h5.4 M235.00 75.80 h5.4" stroke="#0c0c0c" stroke-width="1.45" fill="none"/>
<path d="M259.60 327.70 V334.20 M256.90 328.40 h5.4 M256.90 333.50 h5.4" stroke="#0c0c0c" stroke-width="1.45" fill="none"/>
<path d="M313.40 324.30 V332.30 M310.70 325.00 h5.4 M310.70 331.60 h5.4" stroke="#0c0c0c" stroke-width="1.45" fill="none"/>
<path d="M335.35 118.00 V125.20 M332.65 118.70 h5.4 M332.65 124.50 h5.4" stroke="#0c0c0c" stroke-width="1.45" fill="none"/>
<path d="M357.05 350.90 V355.00 M354.35 351.60 h5.4 M354.35 354.30 h5.4" stroke="#0c0c0c" stroke-width="1.45" fill="none"/>
<path d="M410.85 374.00 V378.30 M408.15 374.70 h5.4 M408.15 377.60 h5.4" stroke="#0c0c0c" stroke-width="1.45" fill="none"/>
<path d="M432.95 195.00 V205.00 M430.25 195.70 h5.4 M430.25 204.30 h5.4" stroke="#0c0c0c" stroke-width="1.45" fill="none"/>
<path d="M454.85 361.40 V363.30 M452.15 362.10 h5.4 M452.15 362.60 h5.4" stroke="#0c0c0c" stroke-width="1.45" fill="none"/>
<path d="M508.30 384.30 V385.50 M505.60 385.00 h5.4 M505.60 384.80 h5.4" stroke="#0c0c0c" stroke-width="1.45" fill="none"/>
<path d="M530.25 236.00 V243.30 M527.55 236.70 h5.4 M527.55 242.60 h5.4" stroke="#0c0c0c" stroke-width="1.45" fill="none"/>
<path d="M551.95 374.60 V375.60 M549.25 375.30 h5.4 M549.25 374.90 h5.4" stroke="#0c0c0c" stroke-width="1.45" fill="none"/>
<path d="M91.30 31.4 V395.9" stroke="#0c0c0c" stroke-width="1.3" fill="none"/>
<path d="M85.6 391.75 H579.5" stroke="#0c0c0c" stroke-width="1.3" fill="none"/>
<text x="76.2" y="396.15" font-size="19" text-anchor="end" textLength="9.2" lengthAdjust="spacingAndGlyphs">0</text>
<path d="M85.6 351.80 H91.30" stroke="#0c0c0c" stroke-width="1.3"/>
<text x="76.2" y="356.20" font-size="19" text-anchor="end" textLength="18.3" lengthAdjust="spacingAndGlyphs">20</text>
<path d="M85.6 311.85 H91.30" stroke="#0c0c0c" stroke-width="1.3"/>
<text x="76.2" y="316.25" font-size="19" text-anchor="end" textLength="18.3" lengthAdjust="spacingAndGlyphs">40</text>
<path d="M85.6 271.90 H91.30" stroke="#0c0c0c" stroke-width="1.3"/>
<text x="76.2" y="276.30" font-size="19" text-anchor="end" textLength="18.3" lengthAdjust="spacingAndGlyphs">60</text>
<path d="M85.6 231.95 H91.30" stroke="#0c0c0c" stroke-width="1.3"/>
<text x="76.2" y="236.35" font-size="19" text-anchor="end" textLength="18.3" lengthAdjust="spacingAndGlyphs">80</text>
<path d="M85.6 192.00 H91.30" stroke="#0c0c0c" stroke-width="1.3"/>
<text x="76.2" y="196.40" font-size="19" text-anchor="end" textLength="27.5" lengthAdjust="spacingAndGlyphs">100</text>
<path d="M85.6 152.05 H91.30" stroke="#0c0c0c" stroke-width="1.3"/>
<text x="76.2" y="156.45" font-size="19" text-anchor="end" textLength="27.5" lengthAdjust="spacingAndGlyphs">120</text>
<path d="M85.6 112.10 H91.30" stroke="#0c0c0c" stroke-width="1.3"/>
<text x="76.2" y="116.50" font-size="19" text-anchor="end" textLength="27.5" lengthAdjust="spacingAndGlyphs">140</text>
<path d="M85.6 72.15 H91.30" stroke="#0c0c0c" stroke-width="1.3"/>
<text x="76.2" y="76.55" font-size="19" text-anchor="end" textLength="27.5" lengthAdjust="spacingAndGlyphs">160</text>
<path d="M85.6 32.20 H91.30" stroke="#0c0c0c" stroke-width="1.3"/>
<text x="76.2" y="36.60" font-size="19" text-anchor="end" textLength="27.5" lengthAdjust="spacingAndGlyphs">180</text>
<path d="M188.80 391.75 V395.9" stroke="#0c0c0c" stroke-width="1.3"/>
<path d="M286.30 391.75 V395.9" stroke="#0c0c0c" stroke-width="1.3"/>
<path d="M383.80 391.75 V395.9" stroke="#0c0c0c" stroke-width="1.3"/>
<path d="M481.30 391.75 V395.9" stroke="#0c0c0c" stroke-width="1.3"/>
<path d="M578.80 391.75 V395.9" stroke="#0c0c0c" stroke-width="1.3"/>
<text x="109.50" y="419.20" font-size="19" textLength="61.0" lengthAdjust="spacingAndGlyphs">Control</text>
<text x="203.80" y="419.20" font-size="19" textLength="67.6" lengthAdjust="spacingAndGlyphs">Control-</text>
<text x="204.20" y="436.60" font-size="19" textLength="58.3" lengthAdjust="spacingAndGlyphs">ethanol</text>
<text x="326.40" y="419.20" font-size="19" textLength="19.0" lengthAdjust="spacingAndGlyphs">10</text>
<text x="420.20" y="419.20" font-size="19" textLength="27.6" lengthAdjust="spacingAndGlyphs">100</text>
<text x="513.20" y="419.20" font-size="19" textLength="36.5" lengthAdjust="spacingAndGlyphs">1000</text>
<text x="268.50" y="469.20" font-size="19" textLength="46.0" lengthAdjust="spacingAndGlyphs">Conc.</text>
<text x="320.50" y="469.20" font-size="19" textLength="33.5" lengthAdjust="spacingAndGlyphs">TBT</text>
<text x="361.00" y="469.20" font-size="19" textLength="48.5" lengthAdjust="spacingAndGlyphs">(ng/L)</text>
<text transform="translate(37.2 312.60) rotate(-90)" font-size="19" textLength="18.3" lengthAdjust="spacingAndGlyphs">17</text>
<text transform="translate(37.2 292.90) rotate(-90)" font-size="19" textLength="10.5" lengthAdjust="spacingAndGlyphs" font-style="italic">β</text>
<text transform="translate(37.2 281.50) rotate(-90)" font-size="19" textLength="74.0" lengthAdjust="spacingAndGlyphs">-Estradiol</text>
<text transform="translate(37.2 204.60) rotate(-90)" font-size="19" textLength="39.0" lengthAdjust="spacingAndGlyphs">level</text>
<text transform="translate(37.2 163.50) rotate(-90)" font-size="19" textLength="51.2" lengthAdjust="spacingAndGlyphs">(pg/g)</text>
<text x="230.50" y="57.00" font-size="19" textLength="16.5" lengthAdjust="spacingAndGlyphs">ns</text>
<text x="208.50" y="250.20" font-size="19" textLength="16.5" lengthAdjust="spacingAndGlyphs">ns</text>
<text x="251.30" y="323.10" font-size="19" textLength="16.5" lengthAdjust="spacingAndGlyphs">ns</text>
<text x="329.30" y="112.60" font-size="19" textLength="9.5" lengthAdjust="spacingAndGlyphs">d</text>
<text x="309.20" y="319.10" font-size="19" textLength="9.5" lengthAdjust="spacingAndGlyphs">d</text>
<text x="350.80" y="344.50" font-size="19" textLength="7.5" lengthAdjust="spacingAndGlyphs">a</text>
<text x="427.20" y="189.30" font-size="19" textLength="9.5" lengthAdjust="spacingAndGlyphs">d</text>
<text x="406.80" y="368.00" font-size="19" textLength="9.5" lengthAdjust="spacingAndGlyphs">d</text>
<text x="451.00" y="354.80" font-size="19" textLength="9.0" lengthAdjust="spacingAndGlyphs">b</text>
<text x="525.00" y="229.30" font-size="19" textLength="9.5" lengthAdjust="spacingAndGlyphs">d</text>
<text x="501.80" y="375.50" font-size="19" textLength="9.5" lengthAdjust="spacingAndGlyphs">d</text>
<text x="547.40" y="367.80" font-size="19" textLength="9.5" lengthAdjust="spacingAndGlyphs">d</text>
<text x="117.40" y="508.00" font-size="19" textLength="49.3" lengthAdjust="spacingAndGlyphs">Ovary</text>
<text x="117.40" y="532.30" font-size="19" textLength="98.5" lengthAdjust="spacingAndGlyphs">Hemolymph</text>
<text x="117.40" y="557.80" font-size="19" textLength="126.6" lengthAdjust="spacingAndGlyphs">Hepatopancreas</text>
</svg></body></html>
